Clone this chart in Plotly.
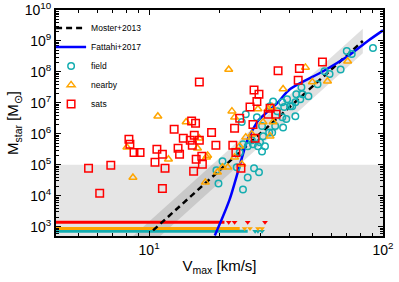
import plotly.graph_objects as go

# ---------------- data ----------------
# satellites (red squares)
sats_v = [8.20, 8.28, 8.62, 9.15, 5.51, 6.86, 6.15, 10.6, 10.8, 11.4, 11.7, 11.4,
          12.8, 13.3, 13.5, 14.0, 15.0, 15.3, 15.2, 15.8, 15.6, 16.4, 15.9, 16.8,
          16.9, 15.5, 16.4, 18.5, 19.3, 22.8, 23.5, 24.7, 28.4, 23.2, 24.4, 27.8,
          27.0, 28.1, 29.5, 28.9, 32.9, 32.3, 34.9, 35.6, 43.9, 43.4, 55.1]
sats_m = [6.7e5, 4.6e5, 2.5e5, 2.5e5, 7.7e4, 9.6e4, 1.2e4, 1.2e5, 3.2e5, 2.2e5, 7.7e4, 1.7e4,
          1.4e6, 3.4e5, 2.2e5, 7.2e5, 6.2e5, 4.3e5, 2.6e6, 2.2e6, 9.0e5, 6.2e5, 1.5e5, 1.9e5,
          1.04e5, 6.2e4, 4.7e7, 1.1e6, 4.3e5, 4.3e5, 2.5e5, 7.7e4, 7.2e5, 1.5e6, 3.2e6, 2.0e6,
          7.3e6, 2.6e7, 1.9e7, 1.1e7, 6.7e6, 4.3e6, 4.3e6, 1.1e8, 1.3e8, 5.4e7, 2.1e8]

# nearby (orange triangles)
near_v = [10.9, 14.4, 21.9, 46.6, 37.4, 49.9, 57.9, 70.6, 22.6, 23.2, 29.2, 30.7,
          33.9, 33.6, 32.9, 16.4, 16.1, 12.1, 17.6, 17.8, 17.4, 8.04, 8.53, 27.5,
          25.9, 24.9, 23.2, 20.6, 19.6, 21.7, 24.4, 32.3]
near_m = [3.7e6, 2.4e6, 1.2e8, 1.4e8, 2.8e7, 4.7e7, 5.0e7, 2.2e8, 5.4e6, 3.4e6, 6.3e6, 2.4e6,
          2.4e6, 7.3e6, 8.4e5, 7.2e5, 3.4e5, 1.5e5, 1.75e5, 2.0e5, 2.7e4, 3.7e5, 3.9e4, 9.7e5,
          7.8e5, 1.04e5, 1.75e5, 8.3e4, 5.7e4, 8.3e4, 4.0e5, 6.3e6]

# field (cyan circles)
field_v = [90.6, 70.0, 73.5, 65.9, 56.2, 59.1, 52.5, 48.0, 44.8, 45.2, 42.6, 40.9,
           38.9, 37.1, 37.8, 33.9, 32.9, 42.2, 37.1, 38.6, 35.3, 25.9, 24.9, 28.9,
           30.4, 34.6, 37.4, 32.6, 20.6, 24.4, 25.2, 28.1, 29.5, 26.4, 29.8, 31.3,
           30.4, 27.8, 27.5, 30.7, 33.6, 25.2, 26.4, 29.2, 23.7, 19.4, 19.8, 40.1,
           44.3, 42.2]
field_m = [5.9e8, 4.7e8, 3.8e8, 1.2e8, 1.06e8, 8.5e7, 4.0e7, 1.65e7, 3.2e7, 1.9e7, 1.9e7, 7.8e6,
           1.3e7, 1.05e7, 7.3e6, 1.1e7, 7.8e6, 3.7e6, 3.4e6, 3.0e6, 5.4e6, 4.3e6, 2.4e6, 3.4e6,
           1.8e6, 1.8e6, 1.6e6, 1.1e6, 1.3e5, 2.5e5, 1.6e4, 7.7e4, 5.7e4, 3.9e4, 5.3e5, 4.0e5,
           2.7e5, 4.6e5, 6.2e5, 8.4e5, 1.1e6, 4.6e5, 4.0e5, 4.0e5, 8.3e4, 6.6e4, 2.5e4, 7.8e6,
           1.3e7, 1.05e7]

# Moster+2013 relation and its scatter band
moster_v = [10.4, 82.0]
moster_m = [7.6e2, 1.0e9]
band_v = [8.0, 82.0, 82.0, 8.0]
band_m = [3.2e2, 2.5e9, 4.0e8, 51.0]

# Fattahi+2017 relation
fattahi_v = [19.1, 22.1, 26.4, 27.8, 29.2, 32.3, 35.3, 40.1, 55.7, 70.6, 86.1, 100.0]
fattahi_m = [5.2e2, 7.6e3, 6.7e5, 1.4e6, 2.6e6, 5.4e6, 9.8e6, 2.8e7, 1.07e8, 3.2e8, 1.0e9, 2.2e9]

# upper limits (dense runs + sparse markers)
lim_sats_run_v = [3.8, 21.0]
lim_sats_m = 1.38e3
lim_sats_v = [21.9, 23.2, 26.4, 31.3]
lim_near_run_v = [3.8, 24.4]
lim_near_m = 8.8e2
lim_near_v = [25.6, 27.0, 29.2, 30.4]
lim_field_run_v = [3.8, 26.4]
lim_field_m = 7.1e2
lim_field_v = [28.4, 29.2, 30.4]

detection_limit = 1e5

x_ticks = [10, 100]
x_ticktext = ["10<sup>1</sup>", "10<sup>2</sup>"]
y_ticks = [1e3, 1e4, 1e5, 1e6, 1e7, 1e8, 1e9, 1e10]
y_ticktext = ["10<sup>%d</sup>" % k for k in range(3, 11)]

# ---------------- style ----------------
RED = "#ff0000"
ORANGE = "#ffa500"
CYAN = "#14adb0"
BLUE = "#0000ff"
FONT = "Arial, Liberation Sans, sans-serif"

fig = go.Figure()

# scatter band
fig.add_trace(go.Scatter(x=band_v, y=band_m, fill="toself", mode="none",
                         fillcolor="rgba(0,0,0,0.12)", showlegend=False, hoverinfo="skip"))

# upper limits
for run_v, lv, m, c in [(lim_field_run_v, lim_field_v, lim_field_m, CYAN),
                        (lim_near_run_v, lim_near_v, lim_near_m, ORANGE),
                        (lim_sats_run_v, lim_sats_v, lim_sats_m, RED)]:
    fig.add_trace(go.Scatter(x=run_v, y=[m] * len(run_v), mode="lines",
                             line=dict(color=c, width=3), showlegend=False))
    fig.add_trace(go.Scatter(x=lv, y=[m] * len(lv), mode="markers",
                             marker=dict(symbol="triangle-down", size=5, color=c),
                             showlegend=False))

fig.add_trace(go.Scatter(x=moster_v, y=moster_m, mode="lines", name="Moster+2013",
                         line=dict(color="black", width=2.5, dash="6px,4px")))
fig.add_trace(go.Scatter(x=fattahi_v, y=fattahi_m, mode="lines", name="Fattahi+2017",
                         line=dict(color=BLUE, width=2.5, shape="spline", smoothing=0.8)))
fig.add_trace(go.Scatter(x=field_v, y=field_m, mode="markers", name="field",
                         marker=dict(symbol="circle-open", size=6.5, color=CYAN,
                                     line=dict(width=1.5))))
fig.add_trace(go.Scatter(x=near_v, y=near_m, mode="markers", name="nearby",
                         marker=dict(symbol="triangle-up-open", size=7, color=ORANGE,
                                     line=dict(width=1.5))))
fig.add_trace(go.Scatter(x=sats_v, y=sats_m, mode="markers", name="sats",
                         marker=dict(symbol="square-open", size=7.5, color=RED,
                                     line=dict(width=1.5))))

# shaded region below detection limit
fig.add_shape(type="rect", xref="paper", x0=0, x1=1, yref="y", y0=100, y1=detection_limit,
              fillcolor="#e5e5e5", line=dict(width=0), layer="below")

axis_common = dict(showgrid=False, zeroline=False, showline=True, linecolor="black",
                   linewidth=2, mirror="allticks", ticks="inside", ticklen=5, tickwidth=1,
                   tickcolor="black", automargin=False,
                   tickfont=dict(size=14, color="black", family=FONT))

fig.update_xaxes(type="log", range=[0.60206, 2.0], tickmode="array", tickvals=x_ticks,
                 ticktext=x_ticktext,
                 minor=dict(ticks="inside", ticklen=3, tickcolor="black",
                            tickvals=[4, 5, 6, 7, 8, 9, 20, 30, 40, 50, 60, 70, 80, 90]),
                 title=dict(text="V<sub>max</sub> [km/s]", font=dict(size=15, family=FONT),
                            standoff=4),
                 **axis_common)
y_minor = [m * 10 ** k for k in range(2, 10) for m in range(2, 10)]
fig.update_yaxes(type="log", range=[2.69897, 10.0], tickmode="array", tickvals=y_ticks,
                 ticktext=y_ticktext,
                 minor=dict(ticks="inside", ticklen=3, tickcolor="black", tickvals=y_minor),
                 title=dict(text="M<sub>star</sub> [M<sub>⊙</sub>]", font=dict(size=15, family=FONT),
                            standoff=2),
                 **axis_common)

fig.update_layout(
    width=399, height=282,
    margin=dict(l=56, r=16, t=10, b=46, autoexpand=False),
    paper_bgcolor="white", plot_bgcolor="white",
    font=dict(family=FONT, color="black"),
    legend=dict(x=-0.015, y=0.985, xanchor="left", yanchor="top",
                bgcolor="rgba(0,0,0,0)", font=dict(size=8.5, family=FONT),
                itemwidth=30, tracegroupgap=0),
)

# remove the browser's default 8px page margin so the figure sits at the window origin
fig.write_html("out.html", config={"displayModeBar": False},
               post_script="document.body.style.margin='0px';document.body.style.overflow='hidden';")
